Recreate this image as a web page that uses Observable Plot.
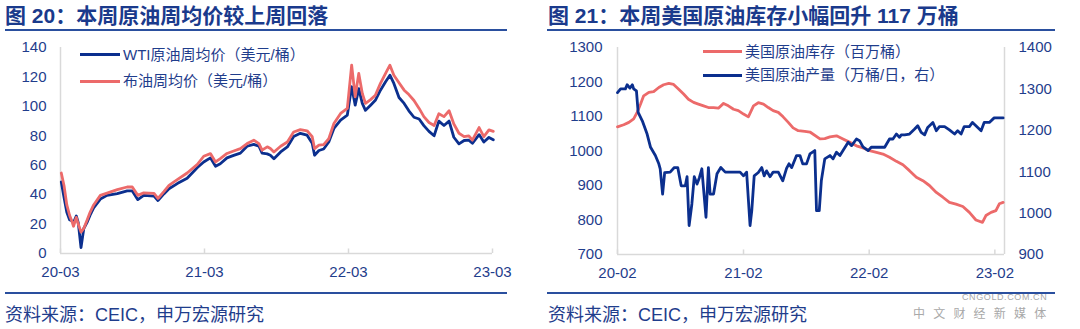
<!DOCTYPE html>
<html>
<head>
<meta charset="utf-8">
<script src="https://cdn.jsdelivr.net/npm/d3@7"></script>
<script src="https://cdn.jsdelivr.net/npm/@observablehq/plot@0.6"></script>
<style>
  body { margin: 0; background: #fff; }
  #root { position: relative; width: 1080px; height: 329px; background: #fff; overflow: hidden;
          font-family: "Liberation Sans", Arial, "Noto Sans CJK SC", sans-serif; color: #1f3d8c; }
  .title { position: absolute; top: 4px; font-size: 21px; line-height: 24px; font-weight: bold; color: #1a3a8c; white-space: nowrap; }
  .rule { position: absolute; height: 2px; background: #2a4f9e; }
  .foot { position: absolute; top: 305px; font-size: 18px; line-height: 20px; color: #1f3d8c; white-space: nowrap; }
  .chart { position: absolute; top: 35px; }
  .leg { position: absolute; font-size: 15px; line-height: 18px; color: #1f3d8c; white-space: nowrap; }
  .legline { position: absolute; height: 3px; }
  .wm { position: absolute; color: #a8a8a8; white-space: nowrap; }
</style>
</head>
<body>
<div id="root">
  <div class="title" style="left:5px">图 20：本周原油周均价较上周回落</div>
  <div class="rule" style="left:5px; top:29px; width:502px"></div>
  <div class="chart" id="left" style="left:0px"></div>
  <div class="rule" style="left:5px; top:292px; width:502px"></div>
  <div class="foot" style="left:5px">资料来源：CEIC，申万宏源研究</div>

  <div class="title" style="left:548px">图 21：本周美国原油库存小幅回升 117 万桶</div>
  <div class="rule" style="left:547px; top:29px; width:508px"></div>
  <div class="chart" id="right" style="left:540px"></div>
  <div class="rule" style="left:547px; top:292px; width:508px"></div>
  <div class="foot" style="left:548px">资料来源：CEIC，申万宏源研究</div>

  <div id="legends"></div>
  <div class="wm" style="left:962px; top:292px; font-size:9px; letter-spacing:0.6px;">CNGOLD.COM.CN</div>
  <div class="wm" style="left:913px; top:304px; font-size:12px; letter-spacing:8.2px;">中文财经新媒体</div>
</div>
<script>
// ---------- Data: left chart (weekly average oil prices, USD/bbl) ----------
const oilDates = [
  "2020-03-03","2020-03-10","2020-03-17","2020-03-24","2020-03-31","2020-04-03","2020-04-10","2020-04-15",
  "2020-04-22","2020-04-29","2020-05-07","2020-05-15","2020-05-24","2020-06-10","2020-06-27","2020-07-23",
  "2020-08-17","2020-08-30","2020-09-13","2020-09-28","2020-10-24","2020-11-03","2020-11-18","2020-12-01",
  "2020-12-22","2021-01-16","2021-02-11","2021-02-27","2021-03-16","2021-03-29","2021-04-10","2021-04-27",
  "2021-05-14","2021-05-31","2021-06-17","2021-07-04","2021-07-17","2021-07-25","2021-08-07","2021-08-15",
  "2021-08-24","2021-09-10","2021-09-27","2021-10-13","2021-10-30","2021-11-16","2021-11-29","2021-12-05",
  "2021-12-16","2021-12-28","2022-01-10","2022-01-23","2022-02-09","2022-02-26","2022-03-09","2022-03-18",
  "2022-03-27","2022-04-05","2022-04-13","2022-04-26","2022-05-08","2022-05-21","2022-06-03","2022-06-14",
  "2022-06-24","2022-07-07","2022-07-20","2022-08-01","2022-08-14","2022-08-27","2022-09-08","2022-09-21",
  "2022-10-04","2022-10-16","2022-10-29","2022-11-11","2022-11-23","2022-12-06","2022-12-19","2022-12-31",
  "2023-01-09","2023-01-26","2023-02-07","2023-02-20","2023-03-03"
];
const wti = [
  48.6, 38, 28, 23, 22, 21, 25.5, 21,
  4, 17, 21, 26, 31, 37, 39.5, 40.7,
  42.5, 42.5, 36.6, 39.5, 39, 36, 40.5, 44,
  47.5, 51.1, 58.4, 62.2, 65, 59.3, 61, 65,
  66.7, 68.2, 72.9, 74.2, 72.9, 68.2, 67.7, 66.8,
  64.4, 69, 72.4, 79.5, 81.7, 80.4, 74.9, 66.8,
  70, 71, 75.8, 85, 90.7, 94.1, 113.3, 100.8,
  112, 102, 97.3, 100.8, 104.1, 111, 116.7, 121.2,
  115.6, 106, 102, 97, 92.6, 91.4, 86.9, 83,
  80, 90, 87, 90, 79, 74.5, 76.8, 77,
  74.9, 80.8, 75.8, 78.9, 77.3
];
const brent = [
  54.7, 46, 33, 26, 21, 18.5, 24.5, 20,
  14.5, 17, 22.5, 28, 33, 39.5, 41, 43.4,
  45.2, 45.2, 39.5, 41.2, 40.8, 37.4, 42, 46.3,
  50.2, 54.7, 60.6, 66.1, 67.9, 62.2, 64.5, 68,
  69.7, 71.3, 74.7, 77, 74.7, 70.2, 72.5, 71.3,
  69, 72.9, 75.8, 82.6, 84.2, 83.4, 79.4, 71.3,
  73.6, 74, 78, 88.3, 95.2, 98.6, 128, 106.5,
  122.4, 108.8, 102, 104.6, 107.5, 115.6, 122.4, 128,
  121.2, 116, 111, 108, 104, 98.6, 93, 89,
  87, 95, 93, 97, 88, 81.7, 79.4, 80,
  77, 85.6, 79.4, 84, 83
];
const leftTickDates = ["2020-03-01","2021-03-01","2022-03-01","2023-03-01"];
const leftTickLabels = ["20-03","21-03","22-03","23-03"];
const leftYTicks = [0, 20, 40, 60, 80, 100, 120, 140];

// ---------- Data: right chart (US crude inventory & production) ----------
const invDates = [
  "2020-02-01","2020-02-19","2020-03-05","2020-03-19","2020-03-29","2020-04-08","2020-04-17","2020-05-02",
  "2020-05-16","2020-05-31","2020-06-14","2020-06-29","2020-07-13","2020-07-27","2020-08-11","2020-08-25",
  "2020-09-09","2020-09-23","2020-10-08","2020-10-22","2020-11-06","2020-11-20","2020-12-05","2020-12-19",
  "2021-01-03","2021-01-17","2021-02-01","2021-02-15","2021-03-02","2021-03-16","2021-03-31","2021-04-14",
  "2021-04-28","2021-05-13","2021-05-27","2021-06-11","2021-06-25","2021-07-10","2021-07-29","2021-08-13",
  "2021-09-11","2021-09-25","2021-10-10","2021-10-29","2021-11-17","2021-12-07","2021-12-26","2022-01-14",
  "2022-02-02","2022-02-22","2022-03-13","2022-04-01","2022-04-21","2022-05-10","2022-05-29","2022-06-18",
  "2022-07-07","2022-07-26","2022-08-15","2022-09-03","2022-09-22","2022-10-11","2022-10-31","2022-11-19",
  "2022-12-08","2022-12-27","2023-01-06","2023-01-21","2023-02-04","2023-02-14","2023-02-25"
];
const inventory = [
  1070, 1076, 1083, 1093, 1112, 1136, 1160, 1170,
  1172, 1184, 1192, 1196, 1193, 1180, 1165, 1150,
  1141, 1136, 1131, 1126, 1126, 1124, 1138, 1131,
  1121, 1117, 1107, 1099, 1131, 1140, 1136, 1126,
  1117, 1112, 1099, 1083, 1067, 1059, 1057, 1055,
  1035, 1036, 1041, 1044, 1035, 1025, 1015, 1009,
  1001, 996, 991, 982, 970, 960, 943, 924,
  914, 900, 880, 866, 851, 846, 839, 822,
  800, 793, 813, 822, 827, 847, 851
];
const prodDates = [
  "2020-02-01","2020-02-10","2020-02-24","2020-02-29","2020-03-08","2020-03-15","2020-03-19","2020-03-27",
  "2020-04-01","2020-04-13","2020-04-27","2020-05-07","2020-05-21","2020-05-31","2020-06-04","2020-06-11",
  "2020-06-17","2020-07-03","2020-07-15","2020-07-25","2020-08-04","2020-08-16","2020-08-21","2020-08-27",
  "2020-09-04","2020-09-11","2020-09-19","2020-09-26","2020-10-03","2020-10-15","2020-10-22","2020-10-27",
  "2020-11-06","2020-11-16","2020-11-27","2020-12-10","2021-01-03","2021-01-22","2021-02-01","2021-02-10",
  "2021-02-15","2021-02-20","2021-02-25","2021-03-04","2021-03-16","2021-03-26","2021-04-02","2021-04-09",
  "2021-04-19","2021-04-28","2021-05-13","2021-05-26","2021-06-06","2021-06-13","2021-06-21","2021-07-05",
  "2021-07-15","2021-07-23","2021-08-03","2021-08-13","2021-08-27","2021-09-01","2021-09-09","2021-09-15",
  "2021-09-25","2021-10-10","2021-10-19","2021-10-29","2021-11-08","2021-11-17","2021-12-02","2021-12-12",
  "2021-12-26","2022-01-04","2022-01-14","2022-01-29","2022-02-07","2022-03-03","2022-03-18","2022-04-01",
  "2022-04-11","2022-04-21","2022-04-30","2022-05-05","2022-05-15","2022-05-29","2022-06-13","2022-06-22",
  "2022-07-02","2022-07-12","2022-07-21","2022-08-05","2022-08-15","2022-08-24","2022-09-08","2022-09-22",
  "2022-10-07","2022-10-16","2022-10-26","2022-11-04","2022-11-19","2022-11-28","2022-12-08","2022-12-23",
  "2023-01-01","2023-01-16","2023-01-30","2023-02-14","2023-02-25"
];
const production = [
  1291, 1300, 1300, 1310, 1302, 1310, 1300, 1295,
  1243, 1223, 1191, 1159, 1139, 1119, 1107, 1046,
  1098, 1099, 1110, 1110, 1066, 1066, 1088, 970,
  1022, 1088, 1070, 1086, 1107, 990, 1110, 1046,
  1046, 1095, 1110, 1099, 1099, 1099, 1090, 1099,
  1034, 970, 1006, 1090, 1098, 1110, 1090, 1102,
  1088, 1099, 1099, 1078, 1108, 1119, 1110, 1139,
  1139, 1119, 1119, 1143, 1151, 1006, 1006, 1078,
  1131, 1139, 1131, 1147, 1139, 1151, 1171, 1163,
  1179, 1175, 1160, 1151, 1159, 1159, 1159, 1179,
  1179, 1191, 1183, 1189, 1189, 1191, 1203, 1211,
  1195, 1189, 1207, 1219, 1199, 1209, 1209, 1201,
  1191, 1199, 1191, 1209, 1209, 1219, 1211, 1199,
  1219, 1219, 1230, 1230, 1230
];
const rightTickDates = ["2020-02-01","2021-02-01","2022-02-01","2023-02-01"];
const rightTickLabels = ["20-02","21-02","22-02","23-02"];
const invTicks = [700, 800, 900, 1000, 1100, 1200, 1300];
const prodTicks = [900, 1000, 1100, 1200, 1300, 1400];

// legend labels
const leftLegend = ["WTI原油周均价（美元/桶）", "布油周均价（美元/桶）"];
const rightLegend = ["美国原油库存（百万桶）", "美国原油产量（万桶/日，右）"];

// ---------- styling ----------
const BLUE = "#0b2f8e";
const RED = "#ec6a6a";
const GRAY = "#d9d9d9";
const TEXT = "#1f3d8c";
const FONT = '"Liberation Sans", Arial, "Noto Sans CJK SC", sans-serif';

// ---------- left chart ----------
const oil = oilDates.map((d, i) => ({date: new Date(d), wti: wti[i], brent: brent[i]}));
const lTicks = leftTickDates.map(d => new Date(d));
const lDomainY = [0, 140];
const left = Plot.plot({
  width: 540, height: 255,
  marginLeft: 60, marginRight: 48, marginTop: 12, marginBottom: 37,
  x: {type: "utc", domain: [lTicks[0], lTicks[3]]},
  y: {domain: lDomainY},
  style: {fontFamily: FONT, fontSize: "15px", color: TEXT, background: "transparent", overflow: "visible"},
  marks: [
    Plot.ruleY([lDomainY[0]], {stroke: GRAY, strokeWidth: 1.5}),
    Plot.ruleX([lTicks[0]], {stroke: GRAY, strokeWidth: 1.5}),
    Plot.ruleX(lTicks, {x: d => d, y1: lDomainY[0], y2: lDomainY[0] + (lDomainY[1] - lDomainY[0]) * 0.022, stroke: GRAY, strokeWidth: 1.5}),
    Plot.axisY({ticks: leftYTicks, tickSize: 0, tickPadding: 14, label: null, fontSize: 15, tickFormat: d => String(d)}),
    Plot.axisX({ticks: lTicks, tickSize: 0, tickPadding: 13, label: null, fontSize: 15,
      tickFormat: d => leftTickLabels[lTicks.findIndex(t => +t === +d)]}),
    Plot.line(oil, {x: "date", y: "wti", stroke: BLUE, strokeWidth: 2.8}),
    Plot.line(oil, {x: "date", y: "brent", stroke: RED, strokeWidth: 2.8})
  ]
});
document.getElementById("left").appendChild(left);

// ---------- right chart (dual axis) ----------
const yL = [700, 1300], yR = [900, 1400];
const toLeft = v => yL[0] + (v - yR[0]) * (yL[1] - yL[0]) / (yR[1] - yR[0]);
const inv = invDates.map((d, i) => ({date: new Date(d), v: inventory[i]}));
const prod = prodDates.map((d, i) => ({date: new Date(d), v: toLeft(production[i])}));
const rTicks = rightTickDates.map(d => new Date(d));
const rDomainX = [new Date("2020-02-01"), new Date("2023-03-01")];
const right = Plot.plot({
  width: 540, height: 255,
  marginLeft: 77, marginRight: 76, marginTop: 12, marginBottom: 36,
  x: {type: "utc", domain: rDomainX},
  y: {domain: yL},
  style: {fontFamily: FONT, fontSize: "15px", color: TEXT, background: "transparent", overflow: "visible"},
  marks: [
    Plot.ruleY([yL[0]], {stroke: GRAY, strokeWidth: 1.5}),
    Plot.ruleX(rDomainX, {stroke: GRAY, strokeWidth: 1.5}),
    Plot.ruleX(rTicks, {x: d => d, y1: yL[0], y2: yL[0] + (yL[1] - yL[0]) * 0.022, stroke: GRAY, strokeWidth: 1.5}),
    Plot.axisY({ticks: invTicks, tickSize: 0, tickPadding: 15, label: null, fontSize: 15, tickFormat: d => String(d)}),
    Plot.axisY({anchor: "right", ticks: prodTicks.map(toLeft), tickSize: 0, tickPadding: 14, label: null, fontSize: 15,
      tickFormat: d => String(prodTicks[prodTicks.map(toLeft).findIndex(t => Math.abs(t - d) < 1e-6)])}),
    Plot.axisX({ticks: rTicks, tickSize: 0, tickPadding: 13, label: null, fontSize: 15,
      tickFormat: d => rightTickLabels[rTicks.findIndex(t => +t === +d)]}),
    Plot.line(inv, {x: "date", y: "v", stroke: RED, strokeWidth: 2.8}),
    Plot.line(prod, {x: "date", y: "v", stroke: BLUE, strokeWidth: 2.8})
  ]
});
document.getElementById("right").appendChild(right);

// ---------- legends (HTML overlay) ----------
const legs = document.getElementById("legends");
function addLegend(x0, x1, cy, color, label) {
  const ln = document.createElement("div");
  ln.className = "legline";
  ln.style.left = x0 + "px"; ln.style.width = (x1 - x0) + "px";
  ln.style.top = (cy - 1.5) + "px"; ln.style.background = color;
  legs.appendChild(ln);
  const tx = document.createElement("div");
  tx.className = "leg";
  tx.style.left = (x1 + 3) + "px"; tx.style.top = (cy - 9) + "px";
  tx.textContent = label;
  legs.appendChild(tx);
}
addLegend(80, 120, 54.5, BLUE, leftLegend[0]);
addLegend(80, 120, 81, RED, leftLegend[1]);
addLegend(703, 742, 51.7, RED, rightLegend[0]);
addLegend(703, 742, 75, BLUE, rightLegend[1]);
</script>
</body>
</html>
